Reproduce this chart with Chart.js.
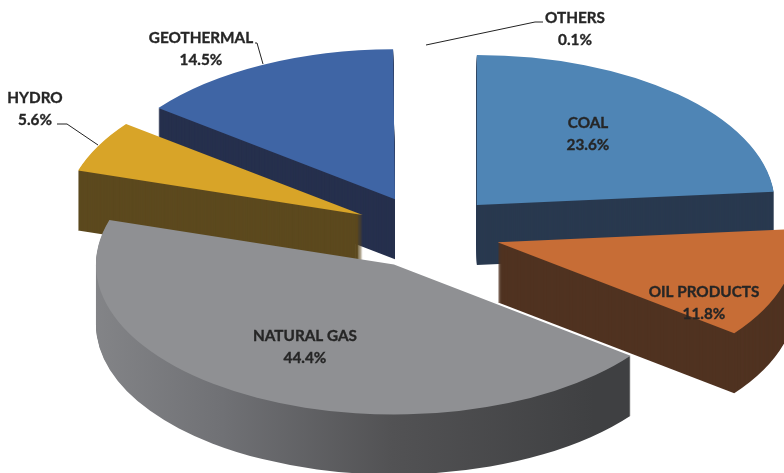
<!DOCTYPE html>
<html>
<head>
<meta charset="utf-8">
<title>Energy mix</title>
<script src="https://cdn.jsdelivr.net/npm/chart.js@4"></script>
<style>
    html, body { margin: 0; padding: 0; background: #fff; overflow: hidden; }
    canvas { display: block; }
</style>
</head>
<body>
<canvas id="myChart" width="784" height="473"></canvas>
<script>
const categories = ['COAL', 'OIL PRODUCTS', 'NATURAL GAS', 'HYDRO', 'GEOTHERMAL', 'OTHERS'];
const shares = [23.6, 11.8, 44.4, 5.6, 14.5, 0.1];
const topColors = ['#4f85b5', '#c76d36', '#8f9093', '#d8a428', '#3f65a5', '#ffffff'];
const wallColors = ['#29394f', '#503321', null, '#5c491e', '#26304d', '#ffffff'];

// back to front, the slices overlap each other
const drawOrder = [5, 0, 4, 3, 1, 2];

// label centres, one per category: [x, y of first line]
const labelSpots = [[588, 123], [704, 292], [305, 336], [35, 98], [201, 38], [575, 18]];
const leaders = [
    [[57, 124], [67, 124], [98, 145]],
    [[255, 43], [257, 43], [263, 64]],
    [[426, 45], [535, 22], [543, 22]]
];

const TILT = 0.503;   // flattening of the pie
const EXPLODE = 73;   // how far every slice is pulled out, before tilt
const DEPTH = 60;     // height of the walls in px

function sectorPath(ctx, arc) {
    ctx.beginPath();
    ctx.moveTo(arc.x, arc.y);
    ctx.arc(arc.x, arc.y, arc.outerRadius, arc.startAngle, arc.endAngle);
    ctx.closePath();
}

// gas wall is shaded left to right, the others are flat
function gasGradient(ctx) {
    const g = ctx.createLinearGradient(96, 0, 628, 0);
    g.addColorStop(0, '#88898c');
    g.addColorStop(0.3, '#707175');
    g.addColorStop(0.62, '#525254');
    g.addColorStop(1, '#3f4042');
    return g;
}

const pie3d = {
    id: 'pie3d',
    beforeDatasetsDraw(chart) {
        const ctx = chart.ctx;
        const arcs = chart.getDatasetMeta(0).data;
        drawOrder.forEach(i => {
            const arc = arcs[i];
            const half = (arc.startAngle + arc.endAngle) / 2;
            const place = dy => {
                ctx.translate(0, arc.y + dy);
                ctx.scale(1, TILT);
                ctx.translate(0, -arc.y);
                ctx.translate(Math.cos(half) * EXPLODE, Math.sin(half) * EXPLODE);
            };
            // wall: same sector stacked downwards
            for (let d = DEPTH; d > 0; d--) {
                ctx.save();
                place(d);
                ctx.fillStyle = wallColors[i] || gasGradient(ctx);
                sectorPath(ctx, arc);
                ctx.fill();
                ctx.restore();
            }
            // top face
            ctx.save();
            place(0);
            arc.draw(ctx);
            ctx.restore();
        });
        return false;
    },
    afterDraw(chart) {
        const ctx = chart.ctx;
        ctx.save();
        ctx.strokeStyle = '#222222';
        ctx.lineWidth = 1;
        leaders.forEach(pts => {
            ctx.beginPath();
            pts.forEach((p, k) => k ? ctx.lineTo(p[0], p[1]) : ctx.moveTo(p[0], p[1]));
            ctx.stroke();
        });
        ctx.font = 'bold 15.3px Lato, sans-serif';
        ctx.fillStyle = '#262626';
        ctx.strokeStyle = '#262626';
        ctx.lineWidth = 0.35;
        ctx.textAlign = 'center';
        ctx.textBaseline = 'middle';
        categories.forEach((name, i) => {
            const [x, y] = labelSpots[i];
            const pct = shares[i].toFixed(1) + '%';
            ctx.fillText(name, x, y);
            ctx.strokeText(name, x, y);
            ctx.fillText(pct, x, y + 22);
            ctx.strokeText(pct, x, y + 22);
        });
        ctx.restore();
    }
};

new Chart(document.getElementById('myChart'), {
    type: 'pie',
    data: {
        labels: categories,
        datasets: [{
            data: shares,
            backgroundColor: topColors,
            borderWidth: 0,
            clip: false
        }]
    },
    options: {
        responsive: false,
        animation: false,
        radius: 298,
        layout: { padding: { left: 71, bottom: 9 } },
        plugins: {
            legend: { display: false },
            tooltip: { enabled: false }
        }
    },
    plugins: [pie3d]
});
</script>
</body>
</html>
